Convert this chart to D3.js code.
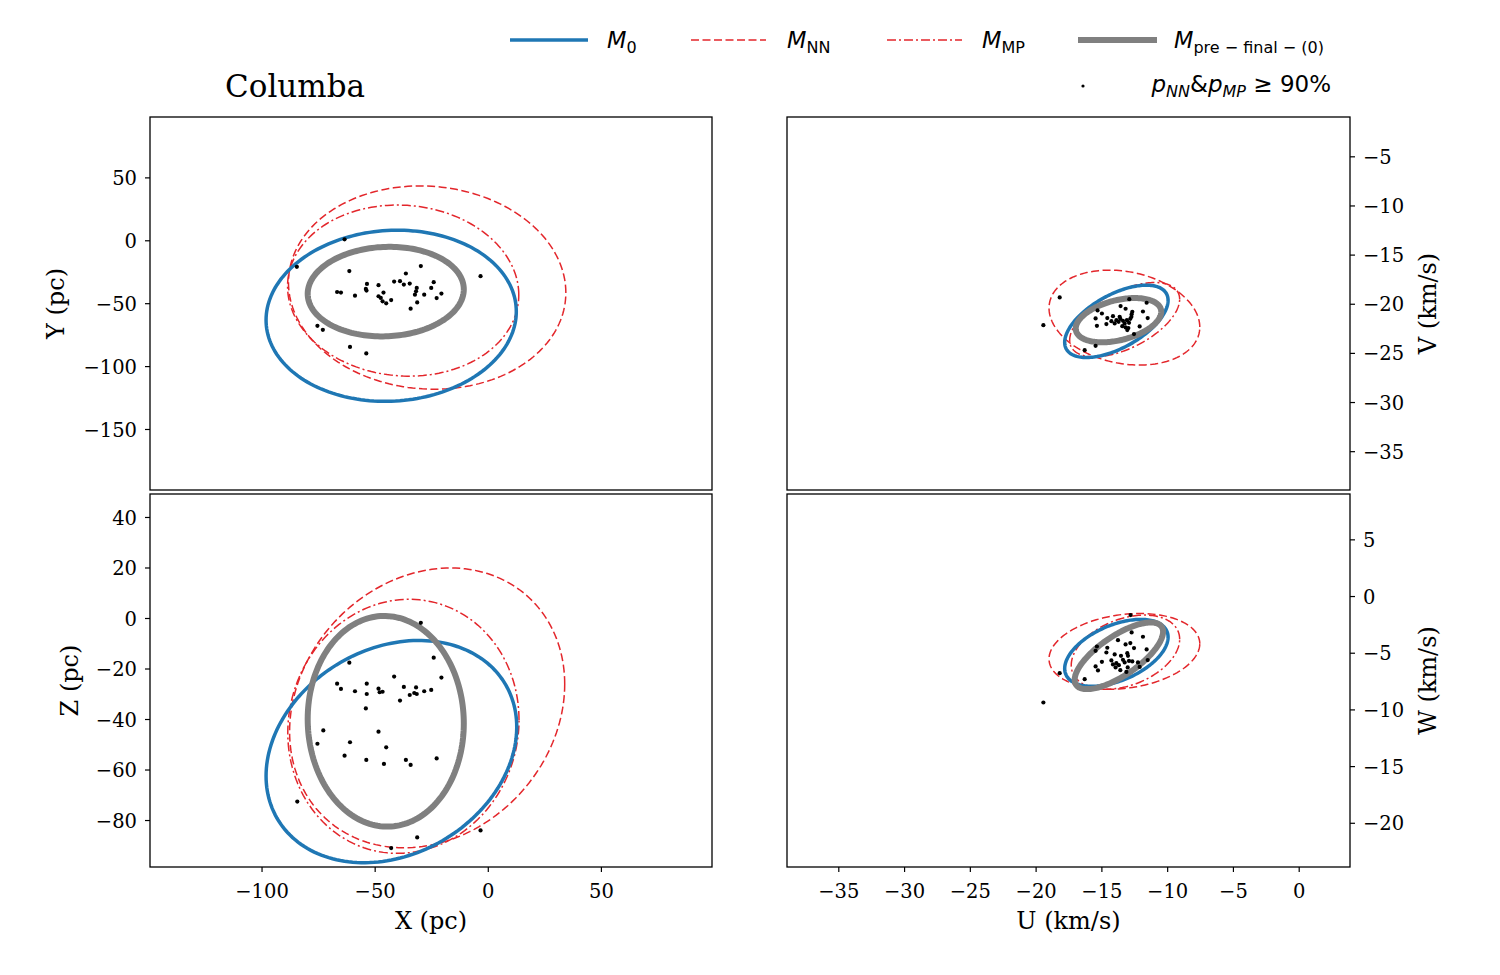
<!DOCTYPE html>
<html>
<head>
<meta charset="utf-8">
<script src="https://cdn.jsdelivr.net/npm/d3@7"></script>
<style>
  body { margin: 0; background: #fff; }
  svg { display: block; }
  .tick text { font-family: "DejaVu Serif", serif; font-size: 19.5px; fill: #000; }
  .tick line { stroke: #000; stroke-width: 1.2; }
</style>
</head>
<body>
<svg id="chart" width="1500" height="975"></svg>
<script>
// axis ranges (data units)
const xRange = [-149.3, 99.1];
const yRange = [-198.5, 98.0];
const zRange = [-98.6, 49.1];
const uRange = [-38.9, 3.9];
const vRange = [-38.95, -1.0];
const wRange = [-23.9, 9.0];

const xTicks = [-100, -50, 0, 50];
const yTicks = [-150, -100, -50, 0, 50];
const zTicks = [-80, -60, -40, -20, 0, 20, 40];
const uTicks = [-35, -30, -25, -20, -15, -10, -5, 0];
const vTicks = [-35, -30, -25, -20, -15, -10, -5];
const wTicks = [-20, -15, -10, -5, 0, 5];

// models, in order M0, M_NN, M_MP, M_pre-final-(0)
// each ellipse: [centre1, centre2, half-extent1, half-extent2, correlation]
const ellipsesXY = [
  [-42.7, -60.0, 55.3, 68.0, 0.05],
  [-26.8, -37.6, 61.3, 80.8, -0.05],
  [-37.4, -40.0, 51.1, 68.0, -0.05],
  [-45.1, -40.8, 34.5, 35.6, 0.05]
];
const ellipsesXZ = [
  [-42.6, -52.9, 55.4, 44.0, 0.22],
  [-26.8, -35.6, 60.8, 55.4, 0.17],
  [-37.3, -42.9, 51.1, 50.3, 0.05],
  [-45.1, -40.9, 34.5, 41.7, -0.02]
];
const ellipsesUV = [
  [-13.86, -21.79, 3.93, 3.68, 0.58],
  [-13.25, -21.41, 5.73, 4.83, -0.20],
  [-13.23, -21.62, 4.18, 3.78, 0.55],
  [-13.70, -21.67, 3.25, 2.25, 0.38]
];
const ellipsesUW = [
  [-13.86, -5.01, 3.93, 2.95, 0.47],
  [-13.25, -4.88, 5.73, 3.34, 0.20],
  [-13.17, -4.95, 4.12, 3.27, 0.35],
  [-13.67, -5.27, 3.36, 2.94, 0.72]
];

// members with p_NN & p_MP >= 90%
const starsXY = [
  [-63.3, 0.8], [-84.4, -21.1], [-61.2, -24.5], [-29.6, -20.5], [-3.2, -28.5],
  [-36.2, -26.4], [-41.4, -32.8], [-38.8, -32.5], [-37.1, -35.2], [-34.5, -34.4],
  [-23.9, -33.3], [-53.4, -34.7], [-53.9, -38.7], [-53.6, -40.0], [-48.3, -35.7],
  [-46.1, -41.6], [-48.3, -44.5], [-47.3, -45.8], [-46.5, -48.5], [-44.9, -50.1],
  [-42.7, -47.5], [-66.6, -41.1], [-64.9, -41.6], [-58.7, -44.0], [-31.4, -37.9],
  [-31.7, -40.5], [-32.2, -43.2], [-28.1, -43.2], [-25.0, -37.9], [-22.6, -45.9],
  [-20.5, -42.4], [-31.2, -49.4], [-34.1, -54.4], [-75.3, -68.0], [-72.9, -71.2],
  [-60.9, -84.8], [-53.7, -89.9]
];
const starsXZ = [
  [-29.6, -1.9], [-61.2, -17.7], [-23.9, -15.7], [-41.4, -23.2], [-20.5, -23.6],
  [-66.6, -26.0], [-64.9, -28.1], [-58.7, -29.0], [-53.5, -26.0], [-53.5, -30.1],
  [-48.3, -28.0], [-47.8, -29.4], [-46.5, -29.2], [-37.1, -27.3], [-31.7, -27.5],
  [-34.5, -30.5], [-32.5, -29.7], [-31.4, -30.1], [-28.1, -29.0], [-25.0, -28.5],
  [-38.8, -32.7], [-53.9, -35.8], [-72.7, -44.5], [-48.3, -45.0], [-75.3, -49.8],
  [-60.9, -49.2], [-44.9, -51.2], [-63.3, -54.5], [-53.7, -56.2], [-45.9, -57.8],
  [-36.2, -56.2], [-34.1, -58.2], [-22.6, -55.6], [-84.2, -72.7], [-3.2, -84.1],
  [-31.2, -86.9], [-42.7, -91.1]
];
const starsUV = [
  [-19.41, -22.18], [-18.17, -19.36], [-12.88, -19.53], [-11.56, -19.90], [-13.54, -20.24],
  [-13.16, -20.51], [-15.29, -20.68], [-14.96, -20.99], [-12.65, -20.82], [-12.70, -21.06],
  [-11.84, -20.79], [-11.48, -21.46], [-15.44, -21.49], [-14.55, -21.46], [-14.12, -21.26],
  [-13.86, -21.67], [-13.56, -21.53], [-13.36, -21.74], [-13.06, -21.67], [-12.80, -21.53],
  [-12.90, -21.94], [-13.99, -22.00], [-14.62, -22.07], [-15.34, -22.25], [-13.41, -22.28],
  [-13.16, -22.41], [-12.95, -22.48], [-12.09, -22.31], [-12.52, -23.09], [-15.44, -24.28],
  [-16.27, -24.72], [-14.24, -21.77], [-13.69, -21.84], [-12.72, -21.33], [-13.23, -22.00],
  [-13.61, -21.33], [-13.03, -22.68]
];
const starsUW = [
  [-19.41, -9.39], [-18.17, -6.80], [-12.78, -1.68], [-12.70, -3.21], [-11.84, -3.59],
  [-13.74, -3.89], [-15.34, -4.45], [-12.80, -4.15], [-13.16, -4.27], [-12.52, -4.59],
  [-14.55, -4.56], [-15.44, -4.83], [-11.56, -4.71], [-14.62, -4.98], [-13.99, -5.15],
  [-13.03, -5.04], [-12.98, -5.27], [-14.96, -5.80], [-14.12, -6.03], [-13.86, -5.92],
  [-13.67, -6.10], [-13.36, -5.63], [-13.23, -5.86], [-12.90, -5.72], [-12.65, -5.77],
  [-11.48, -5.65], [-13.00, -6.30], [-13.56, -6.54], [-15.44, -6.21], [-15.26, -6.56],
  [-13.10, -6.69], [-12.09, -6.25], [-16.27, -7.33], [-14.24, -5.68], [-13.51, -5.27],
  [-13.92, -6.30], [-12.22, -5.86]
];

const modelStyle = [
  { color: "#1f77b4", width: 3.5, dash: null },
  { color: "#e3262b", width: 1.5, dash: "8,3.5" },
  { color: "#e3262b", width: 1.5, dash: "9,3,2,3" },
  { color: "#808080", width: 6, dash: null }
];
const drawOrder = [1, 2, 0, 3];

const svg = d3.select("#chart");

const panels = [
  { id: "xy", box: [150, 117, 712, 490], xd: xRange, yd: yRange, yt: yTicks, xt: null, side: "left",
    ell: ellipsesXY, pts: starsXY, ylab: "Y (pc)", ylx: 64 },
  { id: "xz", box: [150, 494, 712, 867], xd: xRange, yd: zRange, yt: zTicks, xt: xTicks, side: "left",
    ell: ellipsesXZ, pts: starsXZ, ylab: "Z (pc)", ylx: 78, xlab: "X (pc)" },
  { id: "uv", box: [787, 117, 1350, 490], xd: uRange, yd: vRange, yt: vTicks, xt: null, side: "right",
    ell: ellipsesUV, pts: starsUV, ylab: "V (km/s)", ylx: 1436 },
  { id: "uw", box: [787, 494, 1350, 867], xd: uRange, yd: wRange, yt: wTicks, xt: uTicks, side: "right",
    ell: ellipsesUW, pts: starsUW, ylab: "W (km/s)", ylx: 1436, xlab: "U (km/s)" }
];

function ellipsePoints(e) {
  const [c1, c2, r1, r2, rho] = e;
  const s = Math.sqrt(1 - rho * rho);
  return d3.range(0, 361, 2).map(deg => {
    const t = deg * Math.PI / 180;
    return [c1 + r1 * Math.cos(t), c2 + r2 * (rho * Math.cos(t) + s * Math.sin(t))];
  });
}

panels.forEach(p => {
  const [x0, y0, x1, y1] = p.box;
  const xs = d3.scaleLinear().domain(p.xd).range([x0, x1]);
  const ys = d3.scaleLinear().domain(p.yd).range([y1, y0]);

  svg.append("clipPath").attr("id", "clip-" + p.id)
    .append("rect").attr("x", x0).attr("y", y0).attr("width", x1 - x0).attr("height", y1 - y0);

  const g = svg.append("g").attr("clip-path", "url(#clip-" + p.id + ")");
  const line = d3.line().x(d => xs(d[0])).y(d => ys(d[1])).curve(d3.curveLinearClosed);

  drawOrder.forEach(i => {
    const st = modelStyle[i];
    g.append("path")
      .attr("d", line(ellipsePoints(p.ell[i])))
      .attr("fill", "none")
      .attr("stroke", st.color)
      .attr("stroke-width", st.width)
      .attr("stroke-dasharray", st.dash);
  });

  g.selectAll("circle.star").data(p.pts).enter().append("circle")
    .attr("class", "star")
    .attr("cx", d => xs(d[0]))
    .attr("cy", d => ys(d[1]))
    .attr("r", 2.1)
    .attr("fill", "#000");

  // y axis
  const yAxis = (p.side === "left" ? d3.axisLeft(ys) : d3.axisRight(ys))
    .tickValues(p.yt).tickSize(5).tickPadding(8).tickSizeOuter(0);
  const ya = svg.append("g")
    .attr("transform", "translate(" + (p.side === "left" ? x0 : x1) + ",0)")
    .call(yAxis);
  ya.select(".domain").remove();
  ya.selectAll(".tick text").attr("dy", "0.36em");

  if (p.xt) {
    const xa = svg.append("g")
      .attr("transform", "translate(0," + y1 + ")")
      .call(d3.axisBottom(xs).tickValues(p.xt).tickSize(5).tickPadding(12).tickSizeOuter(0));
    xa.select(".domain").remove();

    svg.append("text")
      .attr("x", (x0 + x1) / 2).attr("y", 929)
      .attr("text-anchor", "middle")
      .style("font-family", "DejaVu Serif").style("font-size", "24px")
      .text(p.xlab);
  }

  svg.append("text")
    .attr("transform", "translate(" + p.ylx + "," + ((y0 + y1) / 2) + ")rotate(-90)")
    .attr("text-anchor", "middle")
    .style("font-family", "DejaVu Serif").style("font-size", "24px")
    .text(p.ylab);

  svg.append("rect")
    .attr("x", x0).attr("y", y0).attr("width", x1 - x0).attr("height", y1 - y0)
    .attr("fill", "none").attr("stroke", "#000").attr("stroke-width", 1.3);
});

// title
svg.append("text")
  .attr("x", 295).attr("y", 97)
  .attr("text-anchor", "middle")
  .style("font-family", "DejaVu Serif").style("font-size", "31px")
  .text("Columba");

// legend
const legendItems = [
  { m: 0, x1: 510, x2: 588, tx: 607, sub: "0" },
  { m: 1, x1: 691, x2: 766, tx: 787, sub: "NN" },
  { m: 2, x1: 887, x2: 962, tx: 982, sub: "MP" },
  { m: 3, x1: 1078, x2: 1157, tx: 1174, sub: "pre \u2212 final \u2212 (0)" }
];
const lg = svg.append("g").style("font-family", "DejaVu Sans");
legendItems.forEach(it => {
  const st = modelStyle[it.m];
  lg.append("line")
    .attr("x1", it.x1).attr("x2", it.x2).attr("y1", 40).attr("y2", 40)
    .attr("stroke", st.color).attr("stroke-width", st.width)
    .attr("stroke-dasharray", st.dash);
  const t = lg.append("text").attr("x", it.tx).attr("y", 48).style("font-size", "22.5px");
  t.append("tspan").style("font-style", "italic").text("M");
  t.append("tspan").attr("dy", 5).style("font-size", "16px").text(it.sub);
});

lg.append("circle").attr("cx", 1083).attr("cy", 86).attr("r", 1.6).attr("fill", "#000");
const pt = lg.append("text").attr("x", 1331).attr("y", 92).attr("text-anchor", "end").style("font-size", "23px");
pt.append("tspan").style("font-style", "italic").text("p");
pt.append("tspan").attr("dy", 5).style("font-size", "16px").style("font-style", "italic").text("NN");
pt.append("tspan").attr("dy", -5).text("&");
pt.append("tspan").style("font-style", "italic").text("p");
pt.append("tspan").attr("dy", 5).style("font-size", "16px").style("font-style", "italic").text("MP");
pt.append("tspan").attr("dy", -5).attr("xml:space", "preserve").text("\u00a0\u2265\u00a090%");
</script>
</body>
</html>
